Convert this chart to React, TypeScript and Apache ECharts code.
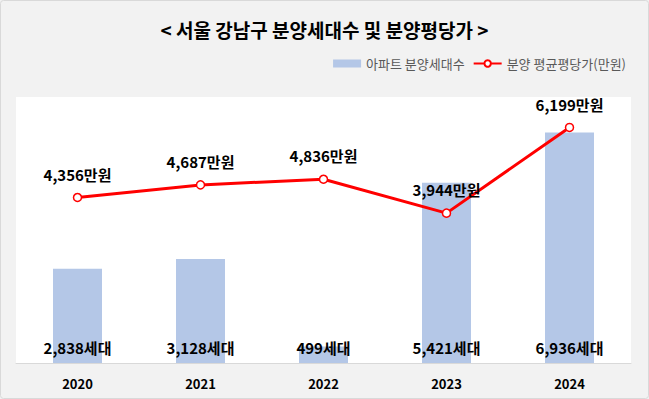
import React, { useEffect, useRef } from "react";
import * as echarts from "echarts";

const categories = ["2020", "2021", "2022", "2023", "2024"];
const units = [2838, 3128, 499, 5421, 6936];
const prices = [4356, 4687, 4836, 3944, 6199];
const titleText = "< 서울 강남구 분양세대수 및 분양평당가 >";
const barName = "아파트 분양세대수";
const lineName = "분양 평균평당가(만원)";

const FONT = "'Noto Sans CJK KR', 'Noto Sans', sans-serif";

export default function App() {
  const ref = useRef<HTMLDivElement>(null);
  useEffect(() => {
    document.body.style.margin = "0";
    const chart = echarts.init(ref.current!, undefined, { renderer: "svg" });
    chart.setOption({
      animation: false,
      backgroundColor: "#f2f2f2",
      textStyle: { fontFamily: FONT },
      title: {
        text: titleText,
        left: "center",
        top: 15,
        textStyle: { fontSize: 19, fontWeight: "bold", color: "#000", fontFamily: FONT },
      },
      legend: {
        right: 18,
        top: 52,
        itemGap: 8,
        itemWidth: 28,
        itemHeight: 8,
        textStyle: { fontSize: 13, color: "#595959", fontFamily: FONT },
        data: [
          { name: barName, icon: "rect", itemStyle: { color: "#b4c7e7" } },
          { name: lineName },
        ],
      },
      graphic: [
        {
          type: "rect",
          shape: { x: 0.5, y: 0.5, width: 648, height: 398, r: 3 },
          style: { fill: "none", stroke: "#d9d9d9", lineWidth: 1 },
          silent: true,
        },
      ],
      grid: {
        left: 16,
        right: 18,
        top: 97,
        bottom: 36,
        show: true,
        backgroundColor: "#ffffff",
        borderWidth: 0,
      },
      xAxis: {
        type: "category",
        data: categories,
        axisLine: { show: true, lineStyle: { color: "#d9d9d9", width: 1 } },
        axisTick: { show: false },
        axisLabel: { fontSize: 13, fontWeight: "bold", color: "#000", margin: 14, fontFamily: FONT },
      },
      yAxis: [
        { type: "value", min: 0, max: 8000, show: false, splitLine: { show: false } },
        { type: "value", min: 0, max: 7000, show: false, splitLine: { show: false } },
      ],
      series: [
        {
          name: barName,
          type: "bar",
          data: units,
          yAxisIndex: 0,
          barWidth: 49,
          itemStyle: { color: "#b4c7e7" },
          label: {
            show: true,
            position: "insideBottom",
            distance: 8,
            fontSize: 15,
            fontWeight: "bold",
            color: "#000",
            fontFamily: FONT,
            formatter: (p: any) => p.value.toLocaleString("en-US") + "세대",
          },
        },
        {
          name: lineName,
          type: "line",
          data: prices,
          yAxisIndex: 1,
          symbol: "circle",
          symbolSize: 8,
          lineStyle: { color: "#ff0000", width: 3 },
          itemStyle: { color: "#ffffff", borderColor: "#ff0000", borderWidth: 1.5 },
          label: {
            show: true,
            position: "top",
            distance: 11,
            fontSize: 15,
            fontWeight: "bold",
            color: "#000",
            fontFamily: FONT,
            formatter: (p: any) => p.value.toLocaleString("en-US") + "만원",
          },
        },
      ],
    });
    return () => chart.dispose();
  }, []);
  return <div ref={ref} style={{ width: 649, height: 399 }} />;
}
